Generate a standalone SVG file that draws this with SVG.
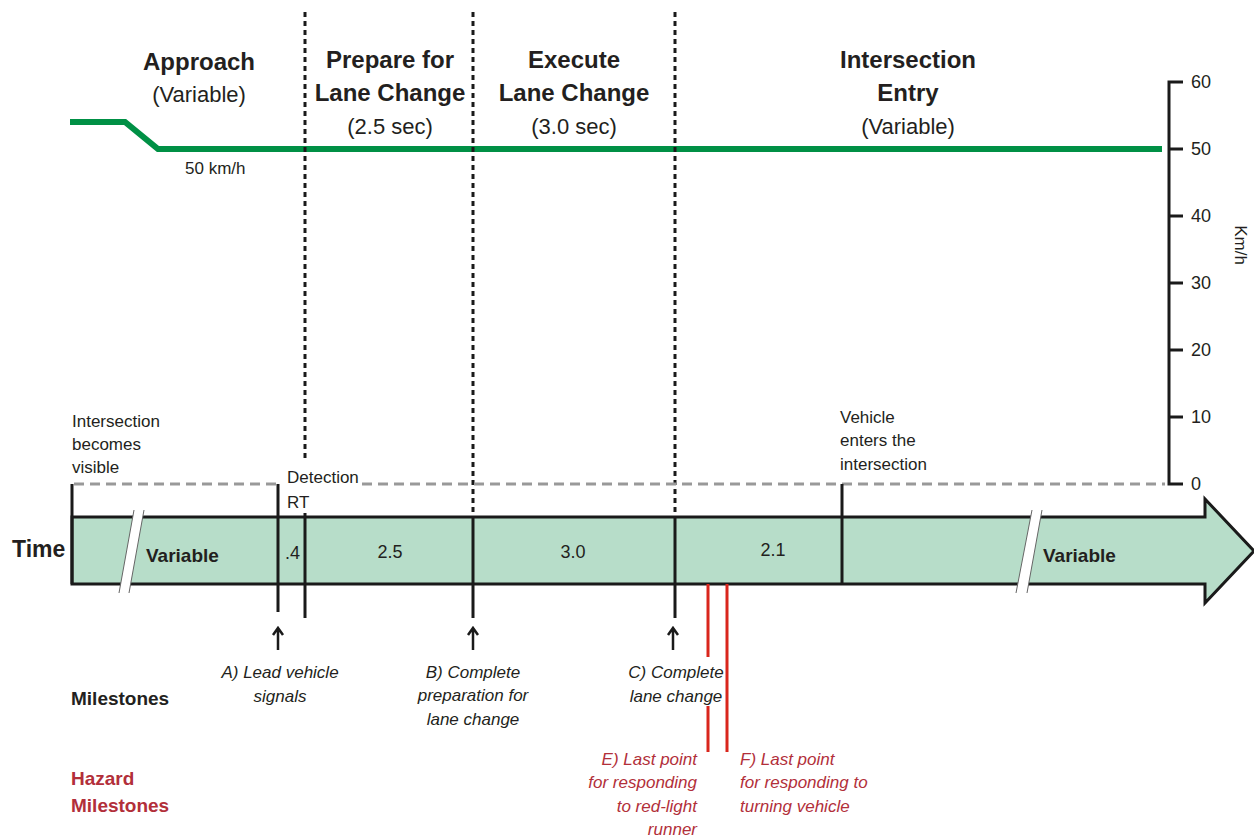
<svg xmlns="http://www.w3.org/2000/svg" width="1254" height="839" viewBox="0 0 1254 839">
<style>
text{font-family:"Liberation Sans",Arial,sans-serif;fill:#231f20}
.h{font-size:24px;font-weight:bold}
.s{font-size:22px}
.n{font-size:17px}
.v{font-size:18px}
.b{font-size:19px;font-weight:bold}
.it{font-size:17px;font-style:italic}
.red{fill:#b22f3a}
.mid{text-anchor:middle}
.end{text-anchor:end}
.dot{stroke:#1a1a1a;stroke-width:3;stroke-dasharray:5 4;fill:none}
.blk{stroke:#1a1a1a;stroke-width:3;fill:none}
.arr{stroke:#1a1a1a;stroke-width:2.5;fill:none}
.rl{stroke:#d9261c;stroke-width:3;fill:none}
.gd{stroke:#999;stroke-width:3;stroke-dasharray:10 6;fill:none}
</style>
<rect width="1254" height="839" fill="#fff"/>
<g id="phases">
<text class="h mid" x="199" y="70">Approach</text>
<text class="s mid" x="199" y="102">(Variable)</text>
<text class="h mid" x="390" y="68">Prepare for</text>
<text class="h mid" x="390" y="101">Lane Change</text>
<text class="s mid" x="390" y="134">(2.5 sec)</text>
<text class="h mid" x="574" y="68">Execute</text>
<text class="h mid" x="574" y="101">Lane Change</text>
<text class="s mid" x="574" y="134">(3.0 sec)</text>
<text class="h mid" x="908" y="68">Intersection</text>
<text class="h mid" x="908" y="101">Entry</text>
<text class="s mid" x="908" y="134">(Variable)</text>
</g>
<g id="speed">
<polyline points="70,122 125,122 158,149 1162,149" fill="none" stroke="#009045" stroke-width="6"/>
<text class="n" x="185" y="174">50 km/h</text>
</g>
<g id="axis">
<path class="blk" d="M1183,82 H1169 V484 H1183 M1169,149 H1183 M1169,216 H1183 M1169,283 H1183 M1169,350 H1183 M1169,417 H1183"/>
<text class="v" x="1191" y="88">60</text>
<text class="v" x="1191" y="155">50</text>
<text class="v" x="1191" y="222">40</text>
<text class="v" x="1191" y="289">30</text>
<text class="v" x="1191" y="356">20</text>
<text class="v" x="1191" y="423">10</text>
<text class="v" x="1191" y="490">0</text>
<text class="n mid" transform="translate(1235,245) rotate(90)">Km/h</text>
</g>
<g id="connectors">
<path class="dot" d="M305,12 V462 M473,12 V517 M675,12 V517"/>
<path class="gd" d="M74,484 H280 M362,484 H1165"/>
</g>
<g id="timebar">
<path d="M72,517 H1205 V499 L1254,551 L1205,603 V584 H72 Z" fill="#b7ddc9" stroke="#1a1a1a" stroke-width="3"/>
<polygon points="134,510 144,510 129,593 119,593" fill="#fff"/>
<path d="M134,510 L119,593 M144,510 L129,593" stroke="#666" stroke-width="1"/>
<polygon points="1032,510 1042,510 1027,593 1016,593" fill="#fff"/>
<path d="M1032,510 L1016,593 M1042,510 L1027,593" stroke="#666" stroke-width="1"/>
<path class="blk" d="M72,484 V584 M278,484 V612 M305,513 V618 M473,517 V618 M675,517 V618 M842,484 V584"/>
<text style="font-size:23px;font-weight:bold" x="12" y="557">Time</text>
<text class="b" x="146" y="562">Variable</text>
<text class="b" x="1043" y="562">Variable</text>
<text class="v" x="285" y="559">.4</text>
<text class="v mid" x="390" y="558">2.5</text>
<text class="v mid" x="573" y="558">3.0</text>
<text class="v mid" x="773" y="556">2.1</text>
</g>
<g id="labels">
<text class="n" x="72" y="427">Intersection</text>
<text class="n" x="72" y="450">becomes</text>
<text class="n" x="72" y="473">visible</text>
<text class="n" x="840" y="423">Vehicle</text>
<text class="n" x="840" y="446">enters the</text>
<text class="n" x="840" y="470">intersection</text>
<text class="n" x="287" y="483">Detection</text>
<text class="n" x="287" y="508">RT</text>
</g>
<g id="milestones">
<path class="arr" d="M278,650 V628 M273,635 L278,628 L283,635 M473,650 V628 M468,635 L473,628 L478,635 M673,650 V628 M668,635 L673,628 L678,635"/>
<text class="b" x="71" y="705">Milestones</text>
<text class="it mid" x="280" y="678">A) Lead vehicle</text>
<text class="it mid" x="280" y="702">signals</text>
<text class="it mid" x="473" y="678">B) Complete</text>
<text class="it mid" x="473" y="701">preparation for</text>
<text class="it mid" x="473" y="725">lane change</text>
<text class="it mid" x="676" y="678">C) Complete</text>
<text class="it mid" x="676" y="702">lane change</text>
</g>
<g id="hazards">
<path class="rl" d="M708,584 V657 M708,706 V752 M727,584 V752"/>
<text class="b red" x="71" y="785">Hazard</text>
<text class="b red" x="71" y="812">Milestones</text>
<text class="it red end" x="697" y="765">E) Last point</text>
<text class="it red end" x="697" y="788">for responding</text>
<text class="it red end" x="697" y="812">to red-light</text>
<text class="it red end" x="697" y="835">runner</text>
<text class="it red" x="740" y="765">F) Last point</text>
<text class="it red" x="740" y="788">for responding to</text>
<text class="it red" x="740" y="812">turning vehicle</text>
</g>
</svg>
